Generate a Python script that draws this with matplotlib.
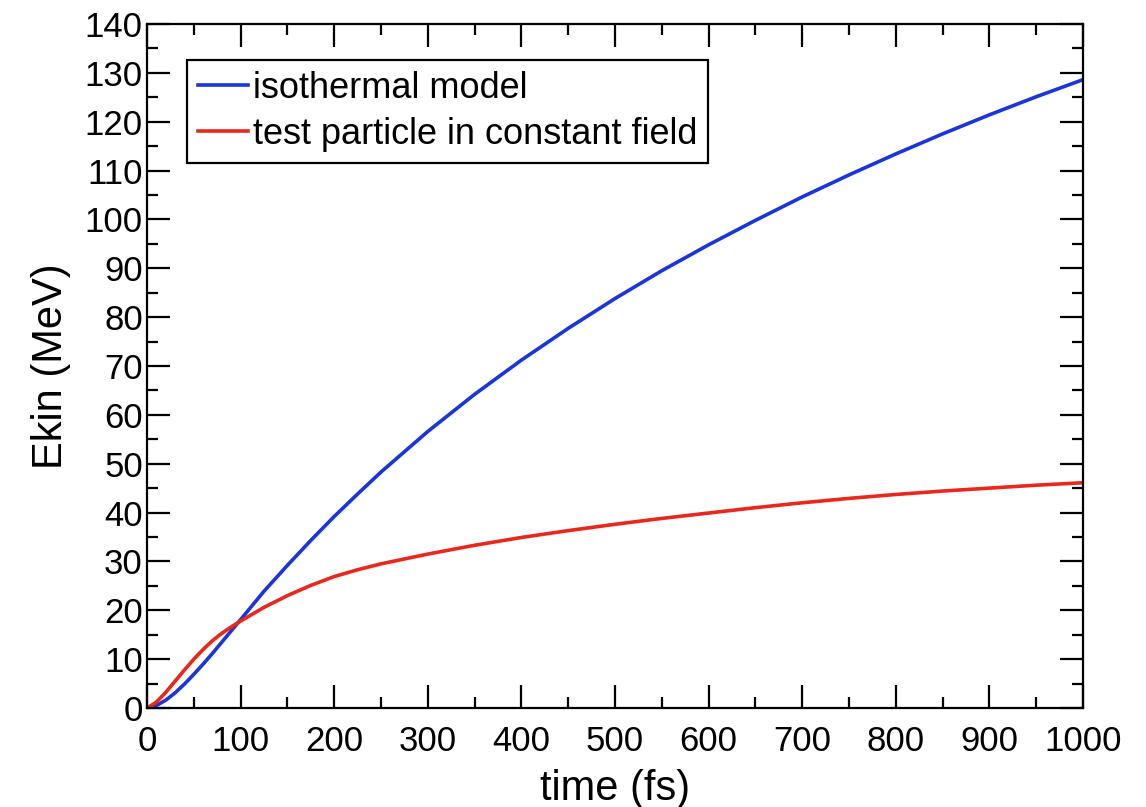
import numpy as np
import matplotlib
matplotlib.use("Agg")
import matplotlib.pyplot as plt
from matplotlib.ticker import MultipleLocator

plt.rcParams['font.family'] = ['Liberation Sans', 'DejaVu Sans']

# time axis (fs) and kinetic energy (MeV) for both models
time_fs = [0, 10, 20, 30, 40, 50, 60, 70, 80, 90, 100, 125, 150, 175, 200,
           225, 250, 300, 350, 400, 450, 500, 550, 600, 650, 700, 750, 800,
           850, 900, 950, 1000]
ekin_isothermal = [0, 0.5, 1.6, 3.1, 4.9, 6.9, 9.0, 11.2, 13.5, 15.8, 18.1,
                   23.9, 29.2, 34.3, 39.2, 43.8, 48.3, 56.6, 64.2, 71.2,
                   77.7, 83.8, 89.5, 94.8, 99.8, 104.6, 109.1, 113.4, 117.5,
                   121.4, 125.1, 128.6]
ekin_test_particle = [0, 1.2, 3.2, 5.5, 7.8, 10.0, 12.0, 13.8, 15.3, 16.6,
                      17.8, 20.6, 23.0, 25.1, 26.9, 28.3, 29.5, 31.5, 33.3,
                      34.9, 36.3, 37.6, 38.8, 39.9, 41.0, 42.0, 42.9, 43.7,
                      44.4, 45.0, 45.6, 46.1]

fig = plt.figure(figsize=(11.46, 8.07), dpi=100)
ax = fig.add_axes([0.1283, 0.1227, 0.8167, 0.8476])

ax.plot(time_fs, ekin_isothermal, color='#1a35dc', lw=2.6, label='isothermal model')
ax.plot(time_fs, ekin_test_particle, color='#e8281c', lw=2.6,
        label='test particle in constant field')

ax.set_xlim(0, 1000)
ax.set_ylim(0, 140)
ax.xaxis.set_major_locator(MultipleLocator(100))
ax.xaxis.set_minor_locator(MultipleLocator(50))
ax.yaxis.set_major_locator(MultipleLocator(10))
ax.yaxis.set_minor_locator(MultipleLocator(5))

ax.tick_params(which='both', direction='in', top=True, right=True, width=1.6,
               labelsize=25, colors='black')
ax.tick_params(which='major', length=16.5)
ax.tick_params(which='minor', length=8)
ax.tick_params(axis='x', pad=12)
ax.tick_params(axis='y', pad=3)
for sp in ax.spines.values():
    sp.set_linewidth(1.6)

ax.set_xlabel('time (fs)', fontsize=30, labelpad=8)
ax.set_ylabel('Ekin (MeV)', fontsize=30, labelpad=10)

leg = ax.legend(loc='upper left', bbox_to_anchor=(0.0427, 0.947), borderaxespad=0,
                fontsize=26, fancybox=False, frameon=True, edgecolor='black',
                framealpha=1, handlelength=1.4, handletextpad=0.12,
                labelspacing=0.3, borderpad=0.3)
leg.get_frame().set_linewidth(1.6)

fig.savefig('out.png', dpi=100)
